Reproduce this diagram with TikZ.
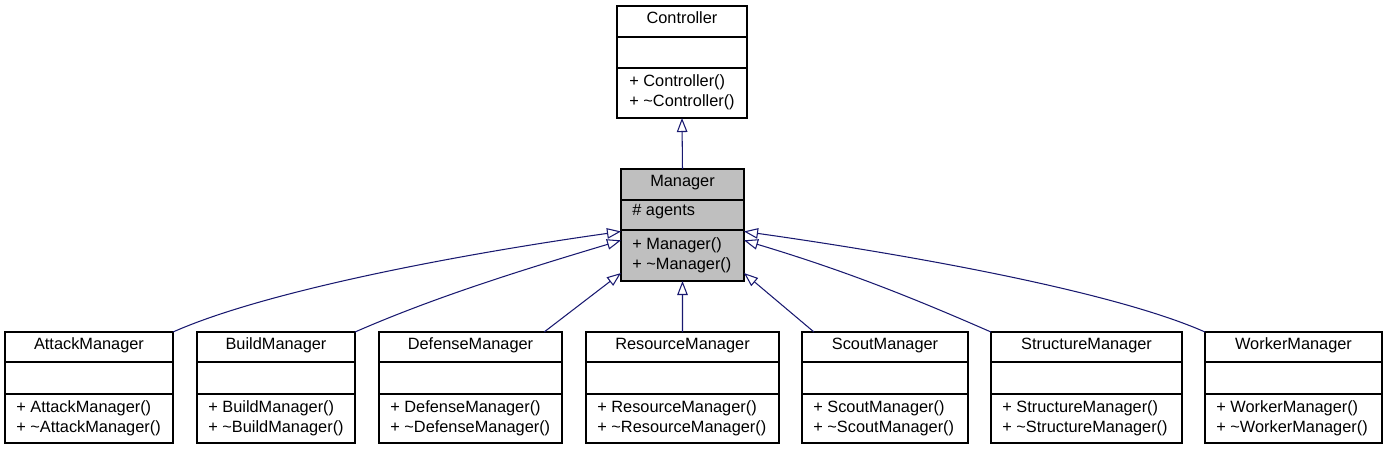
\documentclass[tikz,border=0pt]{standalone}
\usepackage{fontspec}
\setmainfont{Liberation Sans}
\usetikzlibrary{arrows.meta}
\definecolor{edgeblue}{RGB}{25,25,112}
\definecolor{classgray}{RGB}{191,191,191}

\begin{document}
\begin{tikzpicture}[x=0.02cm, y=-0.02cm,
    font=\fontsize{9.3}{11}\selectfont,
    classbox/.style={draw=black, line width=0.6pt, fill=white, inner sep=0pt,
      outer sep=0pt, minimum height=2.22cm, anchor=north west},
    classtitle/.style={anchor=base, inner sep=0pt},
    member/.style={anchor=base west, inner sep=0pt},
    inherit/.style={draw=edgeblue, line width=0.6pt,
      -{Triangle[open, length=8pt, width=6pt]}}]
    \useasboundingbox (0,0) rectangle (1389,451);
    % base class Controller
    \node[classbox, minimum width=2.6cm, minimum height=2.24cm] (controller) at (617,6) {};
    \draw[line width=0.6pt] (controller.north west) ++(0,31) -- ++(130,0);
    \draw[line width=0.6pt] (controller.north west) ++(0,62) -- ++(130,0);
    \path (controller.north) ++(0,17.5) node[classtitle] (controller-title) {Controller};
    \path (controller.north west) ++(12,80) node[member] (controller-op1) {+ Controller()};
    \path (controller.north west) ++(12,100) node[member] (controller-op2) {+ \textasciitilde Controller()};
    % class Manager
    \node[classbox, fill=classgray, minimum width=2.46cm, minimum height=2.24cm] (manager) at (621,169) {};
    \draw[line width=0.6pt] (manager.north west) ++(0,31) -- ++(123,0);
    \draw[line width=0.6pt] (manager.north west) ++(0,61) -- ++(123,0);
    \path (manager.north) ++(0,17.5) node[classtitle] (manager-title) {Manager};
    \path (manager.north west) ++(11,46) node[member] (manager-attr) {\# agents};
    \path (manager.north west) ++(11,80) node[member] (manager-op1) {+ Manager()};
    \path (manager.north west) ++(11,100) node[member] (manager-op2) {+ \textasciitilde Manager()};
    % derived managers
    \foreach \id/\x/\w/\name in {attack/5/168/AttackManager, build/197/158/BuildManager,
        defense/379/183/DefenseManager, resource/586/193/ResourceManager,
        scout/802/166/ScoutManager, structure/991/191/StructureManager,
        worker/1205/177/WorkerManager} {
      \node[classbox, minimum width=\w*0.02cm] (\id) at (\x,332) {};
      \draw[line width=0.6pt] (\id.north west) ++(0,30) -- ++(\w,0);
      \draw[line width=0.6pt] (\id.north west) ++(0,62) -- ++(\w,0);
      \path (\id.north) ++(0,17.5) node[classtitle] (\id-title) {\name};
      \path (\id.north west) ++(11,80) node[member] (\id-op1) {+ \name()};
      \path (\id.north west) ++(11,100) node[member] (\id-op2) {+ \textasciitilde\name()};
    }
    % inheritance
    \draw[inherit] (manager.north) -- (controller.south);
    \draw[inherit] (attack.north east) .. controls +(90,-40) and +(-170,24) .. (manager.186);
    \draw[inherit] (build.north east) .. controls +(80,-35) and +(-100,30) .. (manager.194);
    \draw[inherit] (defense.37) -- (manager.218);
    \draw[inherit] (resource.north) -- (manager.south);
    \draw[inherit] (scout.142) -- (manager.322);
    \draw[inherit] (structure.north west) .. controls +(-80,-35) and +(100,30) .. (manager.346);
    \draw[inherit] (worker.north west) .. controls +(-90,-40) and +(170,24) .. (manager.354);
\end{tikzpicture}
\end{document}
